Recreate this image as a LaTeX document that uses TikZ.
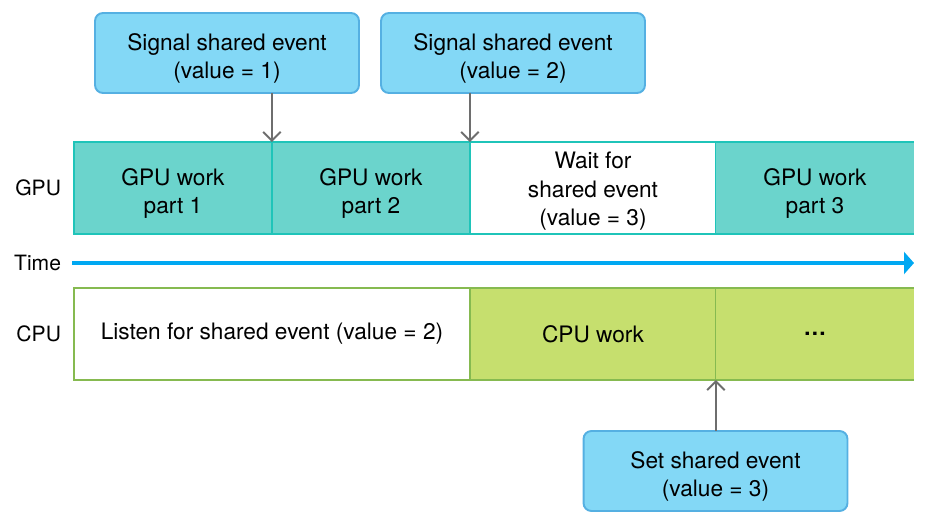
\documentclass[tikz,border=0pt]{standalone}
\usepackage{fontspec}
\setmainfont{TeX Gyre Heros}
\usetikzlibrary{arrows.meta,positioning}

\definecolor{evfill}{HTML}{83D8F6}
\definecolor{evline}{HTML}{55B0E2}
\definecolor{gpufill}{HTML}{6BD4CC}
\definecolor{gpuline}{HTML}{1FC4B9}
\definecolor{cpufill}{HTML}{C6DF6E}
\definecolor{cpuline}{HTML}{86BA50}
\definecolor{timeblue}{HTML}{00A8F2}
\definecolor{linkgray}{HTML}{6E6E6E}

% strut that lowers the first line of a box label
\newcommand{\firstline}[1]{\rule{0pt}{#1}}

\begin{document}
\begin{tikzpicture}[x=0.02cm,y=-0.02cm,
  every node/.style={font=\fontsize{12.9}{16}\selectfont,align=center,inner sep=0pt,outer sep=0pt},
  event/.style={draw=evline,fill=evfill,line width=1.1pt,rounded corners=4.5pt,minimum width=5.28cm,minimum height=1.6cm},
  gpuseg/.style={line width=1.1pt,minimum height=1.84cm,anchor=north west},
  cpuseg/.style={line width=1.1pt,minimum height=1.84cm,anchor=north west},
  rowlabel/.style={anchor=east,font=\fontsize{12}{14}\selectfont},
  link/.style={draw=linkgray,line width=1.1pt,-{Straight Barb[length=5pt,width=10pt]}}]
\useasboundingbox (0,0) rectangle (926,524);

% Shared event boxes
\node[event] (sigone) at (227,53) {\firstline{16pt}Signal shared event\\(value = 1)};
\node[event] (sigtwo) at (513,53) {\firstline{16pt}Signal shared event\\(value = 2)};
\node[event] (setev) at (715.5,471) {\firstline{16pt}Set shared event\\(value = 3)};

% GPU row
\node[gpuseg,draw=gpuline,fill=gpufill,minimum width=3.96cm] (gpuone) at (74,142) {\firstline{16pt}GPU work\\part 1};
\node[gpuseg,draw=gpuline,fill=gpufill,minimum width=3.96cm] (gputwo) at (272,142) {\firstline{16pt}GPU work\\part 2};
\node[gpuseg,draw=gpuline,fill=white,minimum width=4.92cm] (gpuwait) at (470,142) {\firstline{13pt}Wait for\\shared event\\(value = 3)};
\node[gpuseg,fill=gpufill,minimum width=3.96cm] (gputhree) at (716,142) {\firstline{16pt}GPU work\\part 3};
\draw[gpuline,line width=1.1pt] (gputhree.north west) -- (gputhree.north east);
\draw[gpuline,line width=1.1pt] (gputhree.south west) -- (gputhree.south east);

% CPU row
\node[cpuseg,draw=cpuline,fill=white,minimum width=7.92cm] (listen) at (74,288) {Listen for shared event (value = 2)};
\node[cpuseg,draw=cpuline,fill=cpufill,minimum width=4.92cm] (cpuwork) at (470,288) {CPU work};
\node[cpuseg,fill=cpufill,minimum width=3.96cm] (cpumore) at (716,288) {\textbf{\ldots}};
\draw[cpuline,line width=1.1pt] (cpumore.north west) -- (cpumore.north east);
\draw[cpuline,line width=1.1pt] (cpumore.south west) -- (cpumore.south east);

% Row labels and time axis
\node[rowlabel] (gpulbl) at (61,188) {GPU};
\node[rowlabel] (timelbl) at (61,263) {Time};
\node[rowlabel] (cpulbl) at (61,334) {CPU};
\draw[timeblue,line width=2.8pt,-{Triangle[length=0.2cm,width=0.44cm]}] (72,263) -- (914,263);

% Signals
\draw[link] (gpuone.north east |- sigone.south) -- (gpuone.north east);
\draw[link] (gputwo.north east |- sigtwo.south) -- (gputwo.north east);
\draw[link] (cpuwork.south east |- setev.north) -- (cpuwork.south east);
\end{tikzpicture}
\end{document}
